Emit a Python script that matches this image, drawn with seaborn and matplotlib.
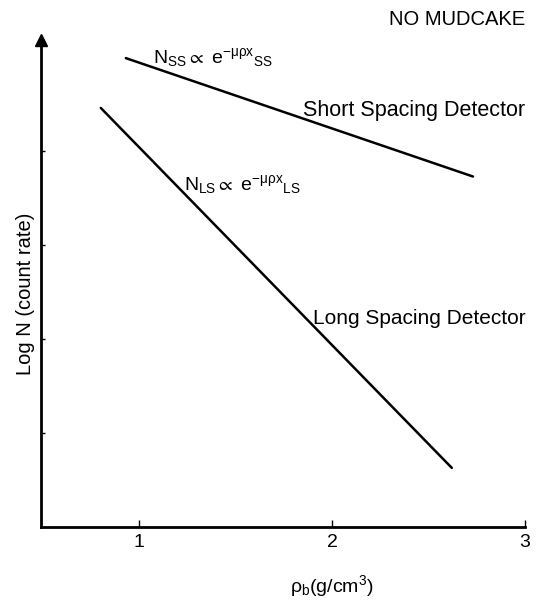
import matplotlib
matplotlib.use("Agg")
import matplotlib.pyplot as plt
import seaborn as sns
import pandas as pd

# Data (x = bulk density g/cm3, y = log N in arbitrary tick units)
detectors = ["Short Spacing Detector", "Short Spacing Detector",
             "Long Spacing Detector", "Long Spacing Detector"]
density = [0.93, 2.73, 0.80, 2.62]
log_n = [4.99, 3.73, 4.46, 0.63]
x_ticks = [1, 2, 3]
x_tick_labels = ["1", "2", "3"]
y_ticks = [1, 2, 3, 4]

df = pd.DataFrame({"detector": detectors, "density": density, "logN": log_n})

sns.set_theme(style="white")
plt.rcParams["font.family"] = ["Liberation Sans", "DejaVu Sans"]
plt.rcParams["text.color"] = "black"
plt.rcParams["axes.labelcolor"] = "black"
plt.rcParams["xtick.color"] = "black"
plt.rcParams["ytick.color"] = "black"
plt.rcParams["mathtext.fontset"] = "custom"
plt.rcParams["mathtext.rm"] = "Liberation Sans"
plt.rcParams["mathtext.it"] = "Liberation Sans"
plt.rcParams["mathtext.default"] = "regular"

fig = plt.figure(figsize=(5.43, 6.01), dpi=100)
ax = fig.add_axes([0.0755, 0.123, 0.8915, 0.81])

sns.lineplot(data=df, x="density", y="logN", units="detector", estimator=None,
             color="black", linewidth=1.8, ax=ax, legend=False, sort=False)

ax.set_xlim(0.49, 3.0)
ax.set_ylim(0, 5.18)
for s in ["top", "right"]:
    ax.spines[s].set_visible(False)
for s in ["left", "bottom"]:
    ax.spines[s].set_color("black")
    ax.spines[s].set_linewidth(2.0)

ax.set_xticks(x_ticks)
ax.set_xticklabels(x_tick_labels, fontsize=14)
ax.set_yticks(y_ticks)
ax.set_yticklabels([])
ax.tick_params(axis="x", direction="in", length=5, width=1, colors="black", pad=5)
ax.tick_params(axis="y", direction="in", length=3, width=1, colors="black")
ax.tick_params(axis="both", which="both", bottom=True, left=True)

# arrow at top of y-axis
ax.plot(0, 1, marker="^", markersize=9, color="black", transform=ax.transAxes,
        clip_on=False)

ax.set_xlabel(r"$\rho_b$(g/cm$^3$)", fontsize=14, color="black")
ax.xaxis.set_label_coords(0.60, -0.095)
ax.set_ylabel("Log N (count rate)", fontsize=14.5, color="black")
ax.yaxis.set_label_coords(-0.013, 0.48)

fig.text(0.967, 0.967, "NO MUDCAKE", ha="right", va="center", fontsize=14.5,
         color="black")

ax.text(1.07, 4.94, r"$N_{SS}{\propto}\ e^{-\mu\rho x}{}_{SS}$", fontsize=14,
        ha="left", va="baseline", color="black")
ax.text(1.85, 4.43, "Short Spacing Detector", fontsize=15.5, ha="left",
        va="center", color="black")
ax.text(1.23, 3.585, r"$N_{LS}{\propto}\ e^{-\mu\rho x}{}_{LS}$", fontsize=14,
        ha="left", va="baseline", color="black")
ax.text(1.90, 2.22, "Long Spacing Detector", fontsize=15, ha="left",
        va="center", color="black")

fig.savefig("out.png", dpi=100)
